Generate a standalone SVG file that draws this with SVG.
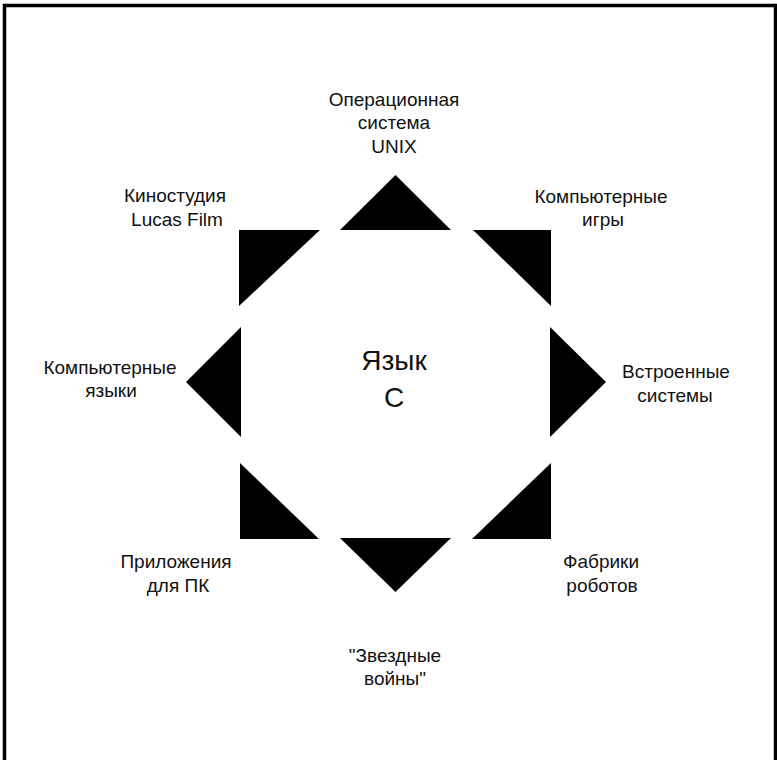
<svg xmlns="http://www.w3.org/2000/svg" width="777" height="760" viewBox="0 0 777 760">
<style>
.lbl{font-family:"Liberation Sans",Arial,sans-serif;font-size:19px;fill:#111;text-anchor:middle}
.ctr{font-family:"Liberation Sans",Arial,sans-serif;font-size:28px;fill:#111;text-anchor:middle}
.tri{fill:#000;stroke:none}
</style>
<rect x="0" y="0" width="777" height="760" fill="#fff"/>
<rect x="4.5" y="5.5" width="771" height="800" fill="none" stroke="#000" stroke-width="3.5"/>
<g id="connectors">
  <polygon class="tri" points="340,230 451,230 395.5,175"/>
  <polygon class="tri" points="473,230 551,230 551,306"/>
  <polygon class="tri" points="550,327 550,437 606,382"/>
  <polygon class="tri" points="551,463 551,539 472,539"/>
  <polygon class="tri" points="340,538 451,538 395.5,592"/>
  <polygon class="tri" points="240,463 240,539 319,539"/>
  <polygon class="tri" points="241,327 241,437 186,382"/>
  <polygon class="tri" points="239,230 320,230 239,306"/>
</g>
<g id="center">
  <text class="ctr" x="394" y="370">Язык</text>
  <text class="ctr" x="394" y="407">С</text>
</g>
<g id="unix">
  <text class="lbl" x="394" y="106">Операционная</text>
  <text class="lbl" x="394" y="129">система</text>
  <text class="lbl" x="394" y="153">UNIX</text>
</g>
<g id="games">
  <text class="lbl" x="601" y="203">Компьютерные</text>
  <text class="lbl" x="603" y="226">игры</text>
</g>
<g id="embedded">
  <text class="lbl" x="676" y="378">Встроенные</text>
  <text class="lbl" x="675" y="402">системы</text>
</g>
<g id="robots">
  <text class="lbl" x="601" y="568">Фабрики</text>
  <text class="lbl" x="602" y="592">роботов</text>
</g>
<g id="starwars">
  <text class="lbl" x="395" y="662">"Звездные</text>
  <text class="lbl" x="395" y="685">войны"</text>
</g>
<g id="pcapps">
  <text class="lbl" x="176" y="568">Приложения</text>
  <text class="lbl" x="178" y="592">для ПК</text>
</g>
<g id="languages">
  <text class="lbl" x="110" y="374">Компьютерные</text>
  <text class="lbl" x="111" y="397">языки</text>
</g>
<g id="lucasfilm">
  <text class="lbl" x="175" y="202">Киностудия</text>
  <text class="lbl" x="177" y="226">Lucas Film</text>
</g>
</svg>
